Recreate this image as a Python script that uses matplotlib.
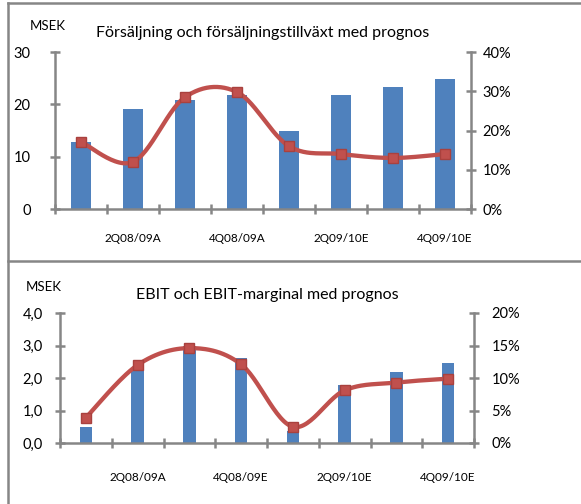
import numpy as np
import matplotlib
matplotlib.use("Agg")
import matplotlib.pyplot as plt
from matplotlib.lines import Line2D
from matplotlib.ticker import FixedLocator, FuncFormatter

plt.rcParams['font.family'] = ['Lato', 'DejaVu Sans']

# data
quarters_sales = ["1Q08/09A", "2Q08/09A", "3Q08/09A", "4Q08/09A",
                  "1Q09/10E", "2Q09/10E", "3Q09/10E", "4Q09/10E"]
sales = [12.8, 19.2, 20.8, 21.7, 15.0, 21.8, 23.4, 24.8]
sales_growth = [17.1, 12.0, 28.5, 29.8, 16.0, 14.0, 13.0, 14.0]

quarters_ebit = ["1Q08/09A", "2Q08/09A", "3Q08/09E", "4Q08/09E",
                 "1Q09/10E", "2Q09/10E", "3Q09/10E", "4Q09/10E"]
ebit = [0.50, 2.29, 3.0, 2.62, 0.37, 1.78, 2.18, 2.45]
ebit_margin = [3.9, 12.0, 14.6, 12.1, 2.5, 8.1, 9.3, 9.9]

BLUE = "#4F81BD"
RED = "#C0504D"
GRAY = "#868686"


def smooth(x, y, n=30):
    # catmull-rom like excel smoothed line
    x = np.asarray(x, float)
    y = np.asarray(y, float)
    px = np.concatenate([[x[0]], x, [x[-1]]])
    py = np.concatenate([[y[0]], y, [y[-1]]])
    xs, ys = [], []
    t = np.linspace(0, 1, n)
    for i in range(1, len(px) - 2):
        p0, p1, p2, p3 = [np.array([px[j], py[j]]) for j in (i - 1, i, i + 1, i + 2)]
        c1 = p1 + (p2 - p0) / 6
        c2 = p2 - (p3 - p1) / 6
        pts = ((1 - t)[:, None] ** 3 * p1 + 3 * ((1 - t) ** 2 * t)[:, None] * c1
               + 3 * ((1 - t) * t ** 2)[:, None] * c2 + (t ** 3)[:, None] * p2)
        xs.extend(pts[:, 0])
        ys.extend(pts[:, 1])
    return xs, ys


def panel(rect, labels, bars, line, ymax, ystep, pmax, pstep, barw, title,
          yfmt, lpad, rpad, title_y, msek_xy):
    ax = fig.add_axes(rect)
    x = np.arange(len(bars))
    ax.bar(x, bars, width=barw, color=BLUE, zorder=2)
    ax.set_xlim(-0.5, len(bars) - 0.5)
    ax.set_ylim(0, ymax)
    ax.set_yticks(np.arange(0, ymax + ystep / 2, ystep))
    ax.yaxis.set_major_formatter(FuncFormatter(yfmt))
    ax.xaxis.set_major_locator(FixedLocator(np.arange(-0.5, len(bars), 1)))
    ax.xaxis.set_major_formatter(FuncFormatter(lambda v, p: ""))
    ax.set_xticks(x[1::2], minor=True)
    ax.set_xticklabels(labels[1::2], minor=True, fontsize=8.5)
    ax.tick_params(axis='x', which='minor', length=0, pad=lpad)
    ax.tick_params(axis='both', which='major', direction='inout', length=7,
                   width=1.8, color=GRAY, labelsize=10.5)
    ax.tick_params(axis='y', pad=rpad[0])
    for s in ['top', 'right']:
        ax.spines[s].set_visible(False)
    for s in ['left', 'bottom']:
        ax.spines[s].set_color(GRAY)
        ax.spines[s].set_linewidth(1.8)

    ax2 = ax.twinx()
    sx, sy = smooth(x, line)
    ax2.plot(sx, sy, color=RED, lw=3.1, zorder=3, solid_capstyle='round')
    ax2.plot(x, line, ls='none', marker='s', ms=7.5, color=RED,
             mec="#A9413E", mew=1, zorder=4)
    ax2.set_ylim(0, pmax)
    ax2.set_yticks(np.arange(0, pmax + pstep / 2, pstep))
    ax2.yaxis.set_major_formatter(FuncFormatter(lambda v, p: "%d%%" % round(v)))
    ax2.tick_params(axis='y', direction='inout', length=7, width=1.8,
                    color=GRAY, labelsize=10.5, pad=rpad[1])
    for s in ['top', 'left', 'bottom']:
        ax2.spines[s].set_visible(False)
    ax2.spines['right'].set_color(GRAY)
    ax2.spines['right'].set_linewidth(1.8)

    fig.text(rect[0] + rect[2] / 2, title_y, title, ha='center', va='center',
             fontsize=11.5)
    fig.text(msek_xy[0], msek_xy[1], "MSEK", ha='left', va='center', fontsize=9.5)
    return ax


fig = plt.figure(figsize=(5.81, 5.04), dpi=100)

panel([55 / 581, 1 - 209 / 504, 416 / 581, 157 / 504], quarters_sales, sales,
      sales_growth, 30, 10, 40, 10, 0.4,
      "Försäljning och försäljningstillväxt med prognos",
      lambda v, p: "%d" % round(v), 17, (14, 5), 1 - 33 / 504, (30 / 581, 1 - 26 / 504))

panel([60 / 581, 1 - 443 / 504, 414 / 581, 130 / 504], quarters_ebit, ebit,
      ebit_margin, 4, 1, 20, 5, 0.24,
      "EBIT och EBIT-marginal med prognos",
      lambda v, p: ("%.1f" % v).replace(".", ","), 21, (9, 9), 1 - 295 / 504,
      (26 / 581, 1 - 287 / 504))

# panel borders
lx = 8 / 581
fig.add_artist(Line2D([lx, lx], [0, 1 - 3 / 504], color=GRAY, lw=1.8))
fig.add_artist(Line2D([lx, 1], [1 - 3 / 504, 1 - 3 / 504], color=GRAY, lw=1.8))
fig.add_artist(Line2D([lx, 1], [1 - 261 / 504, 1 - 261 / 504], color=GRAY, lw=1.8))

fig.savefig("out.png", dpi=100)
